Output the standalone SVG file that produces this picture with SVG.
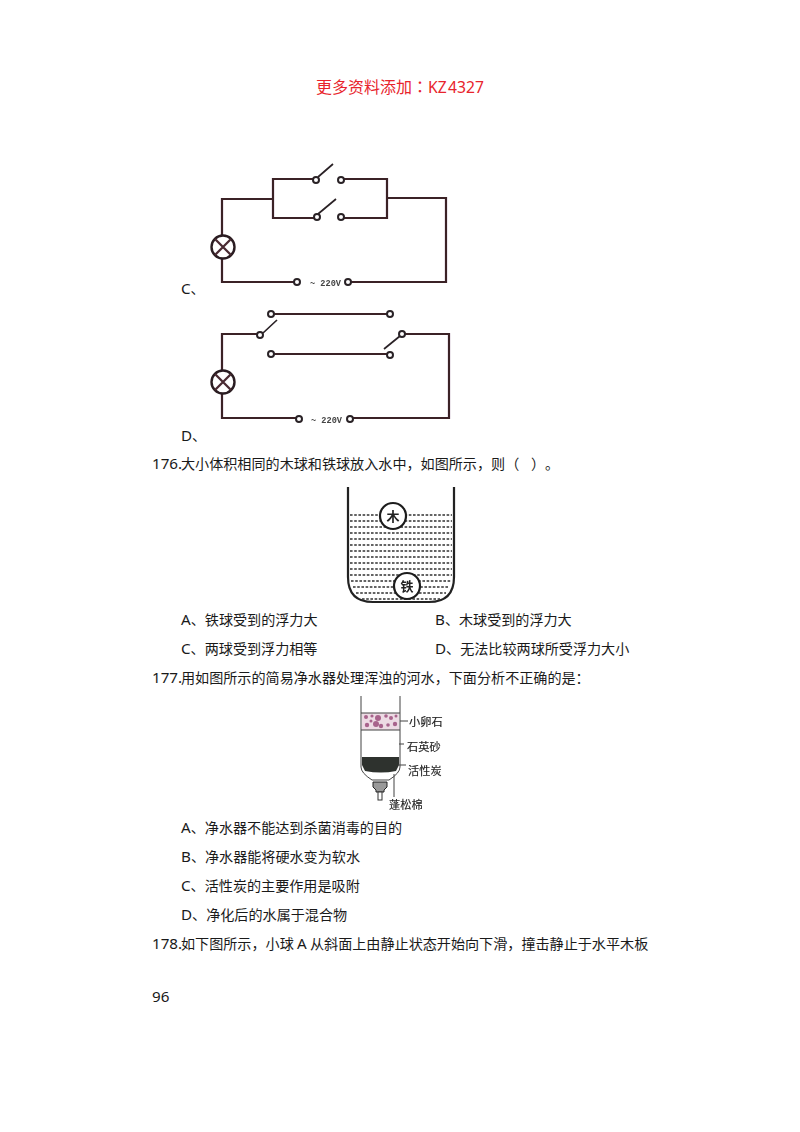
<svg xmlns="http://www.w3.org/2000/svg" width="800" height="1132" viewBox="0 0 800 1132">
<style>
.t{font-family:"Noto Sans CJK SC",sans-serif;font-size:14.1px;fill:#1a1a1a}
.n{font-family:"Noto Sans",sans-serif;font-size:15.2px}
.w{fill:none;stroke:#3a2228;stroke-width:2.2;stroke-linecap:square}
.a{fill:none;stroke:#2a2226;stroke-width:1.7}
.o{fill:#fff;stroke:#2a2226;stroke-width:2}
.v{font-family:"Liberation Mono",monospace;font-size:8.6px;font-weight:bold;fill:#444}
.d{stroke:#333;stroke-width:1.4;stroke-dasharray:2.6 1.6;fill:none}
.l{font-family:"Noto Sans CJK SC",sans-serif;font-size:11.2px;fill:#222;stroke:#222;stroke-width:.15}
.k{fill:none;stroke:#444;stroke-width:1}
</style>
<defs>
<filter id="soft" x="-5%" y="-5%" width="110%" height="110%"><feGaussianBlur stdDeviation="0.35"/></filter>
<g id="lamp"><circle r="11.5" fill="#fff" stroke="#2a1c20" stroke-width="2.4"/><path d="M-8-8L8 8M-8 8L8-8" stroke="#4a2a32" stroke-width="2.3"/></g>
</defs>
<text id="header" y="93" style="font-family:'Noto Sans CJK SC',sans-serif;font-size:16px;fill:#e8242c"><tspan x="316">更多资料添加</tspan><tspan x="412" style="font-family:'Noto Sans CJK TC',sans-serif">：</tspan><tspan x="428" style="font-family:'Noto Sans',sans-serif;font-size:15.7px">KZ</tspan><tspan x="448" style="font-family:'Noto Sans',sans-serif;font-size:15.7px">4327</tspan></text>
<g id="circuit-c" filter="url(#soft)">
<path class="w" d="M273 199H222V235M222 259V282H293M352 282H446V198H387M273 199V179H312M273 199V218H313M345 179H387V218H345"/>
<path class="a" d="M318 177L333 164M318 214L336 199"/>
<circle class="o" cx="316" cy="180" r="3"/><circle class="o" cx="341" cy="180" r="3"/><circle class="o" cx="317" cy="217" r="3"/><circle class="o" cx="341" cy="217" r="3"/><circle class="o" cx="297" cy="282" r="3"/><circle class="o" cx="348" cy="282" r="3"/>
<use href="#lamp" x="223" y="247"/>
<text class="v" x="310" y="286">~ 220V</text>
</g>
<text class="t" y="294"><tspan class="n" x="181">C</tspan>、</text>
<g id="circuit-d" filter="url(#soft)">
<path class="w" d="M258 334H222V370M222 394V418H295M354 418H449V334H406M275 314H387M275 354H387"/>
<path class="a" d="M263 333L277 320M384 349L400 336"/>
<circle class="o" cx="271" cy="314" r="3"/><circle class="o" cx="390" cy="314" r="3"/><circle class="o" cx="260" cy="335" r="3"/><circle class="o" cx="402" cy="334" r="3"/><circle class="o" cx="271" cy="354" r="3"/><circle class="o" cx="390" cy="355" r="3"/><circle class="o" cx="299" cy="419" r="3"/><circle class="o" cx="350" cy="419" r="3"/>
<use href="#lamp" x="223" y="382"/>
<text class="v" x="311" y="423">~ 220V</text>
</g>
<text class="t" y="441"><tspan class="n" x="181">D</tspan>、</text>
<text class="t" y="469"><tspan class="n" x="152">176.</tspan><tspan x="181">大小体积相同的木球和铁球放入水中，如图所示，则（</tspan><tspan x="531">）</tspan><tspan x="545">。</tspan></text>
<g id="beaker" filter="url(#soft)">
<path class="d" d="M350 515H452M350 521H452M350 527H452M350 533H452M350 539H452M350 545H452M350 551H452M350 557H452M350 563H452M350 569H452M350 575H452M351 581H451M353 587H449M356 593H446M362 599H440"/>
<path d="M348 487V577Q348 602 373 602H429Q454 602 454 577V487" fill="none" stroke="#222" stroke-width="2.2"/>
<circle cx="393" cy="516" r="13" fill="#fff" stroke="#1c1c1c" stroke-width="2.2"/>
<circle cx="407" cy="586" r="13" fill="#fff" stroke="#1c1c1c" stroke-width="2.2"/>
<text x="393" y="521" text-anchor="middle" style="font-family:'Noto Sans CJK SC',sans-serif;font-size:13px;font-weight:bold;fill:#222">木</text>
<text x="407" y="591" text-anchor="middle" style="font-family:'Noto Sans CJK SC',sans-serif;font-size:13px;font-weight:bold;fill:#222">铁</text>
</g>
<text class="t" y="625"><tspan class="n" x="181">A</tspan>、铁球受到的浮力大</text>
<text class="t" y="625"><tspan class="n" x="435">B</tspan>、木球受到的浮力大</text>
<text class="t" y="654"><tspan class="n" x="181">C</tspan>、两球受到浮力相等</text>
<text class="t" y="654"><tspan class="n" x="435">D</tspan>、无法比较两球所受浮力大小</text>
<text class="t" y="683"><tspan class="n" x="152">177.</tspan><tspan x="181">用如图所示的简易净水器处理浑浊的河水，下面分析不正确的是：</tspan></text>
<g id="filter" filter="url(#soft)">
<rect x="362" y="713" width="37" height="17" fill="#eddbe4"/>
<g fill="#a8648c">
<circle cx="366" cy="717" r="2"/><circle cx="372" cy="716" r="1.6"/><circle cx="378" cy="718" r="3"/><circle cx="376" cy="724" r="3"/><circle cx="381" cy="726" r="2.2"/><circle cx="386" cy="716" r="1.8"/><circle cx="391" cy="718" r="2"/><circle cx="396" cy="716" r="1.5"/><circle cx="395" cy="724" r="2.2"/><circle cx="388" cy="725" r="1.8"/><circle cx="367" cy="725" r="2.2"/><circle cx="371" cy="721" r="1.5"/>
</g>
<path d="M362 757H399V765L396 771Q381 774 365 771L362 765Z" fill="#2f322f"/>
<path class="k" d="M361 696V767Q361 773 372 780H389Q400 773 400 767V696M361 713H400M361 730H400"/>
<path d="M373 782H387V787L384 790V792H376V790L373 787Z" fill="#999" stroke="#222"/>
<rect x="378" y="792" width="4" height="8" fill="#fff" stroke="#333"/>
<path class="k" d="M400 721H408M399 744H404M398 765H406M394 774V797"/>
<text class="l" x="409" y="726">小卵石</text>
<text class="l" x="407" y="751">石英砂</text>
<text class="l" x="408" y="775">活性炭</text>
<text class="l" x="389" y="809">蓬松棉</text>
</g>
<text class="t" y="833"><tspan class="n" x="181">A</tspan>、净水器不能达到杀菌消毒的目的</text>
<text class="t" y="862"><tspan class="n" x="181">B</tspan>、净水器能将硬水变为软水</text>
<text class="t" y="891"><tspan class="n" x="181">C</tspan>、活性炭的主要作用是吸附</text>
<text class="t" y="920"><tspan class="n" x="181">D</tspan>、净化后的水属于混合物</text>
<text class="t" y="949"><tspan class="n" x="152">178.</tspan><tspan x="181">如下图所示，小球</tspan><tspan class="n" x="297">A</tspan><tspan x="310">从斜面上由静止状态开始向下滑，撞击静止于水平木板</tspan></text>
<text class="t" y="1002"><tspan class="n" x="152">96</tspan></text>
</svg>
